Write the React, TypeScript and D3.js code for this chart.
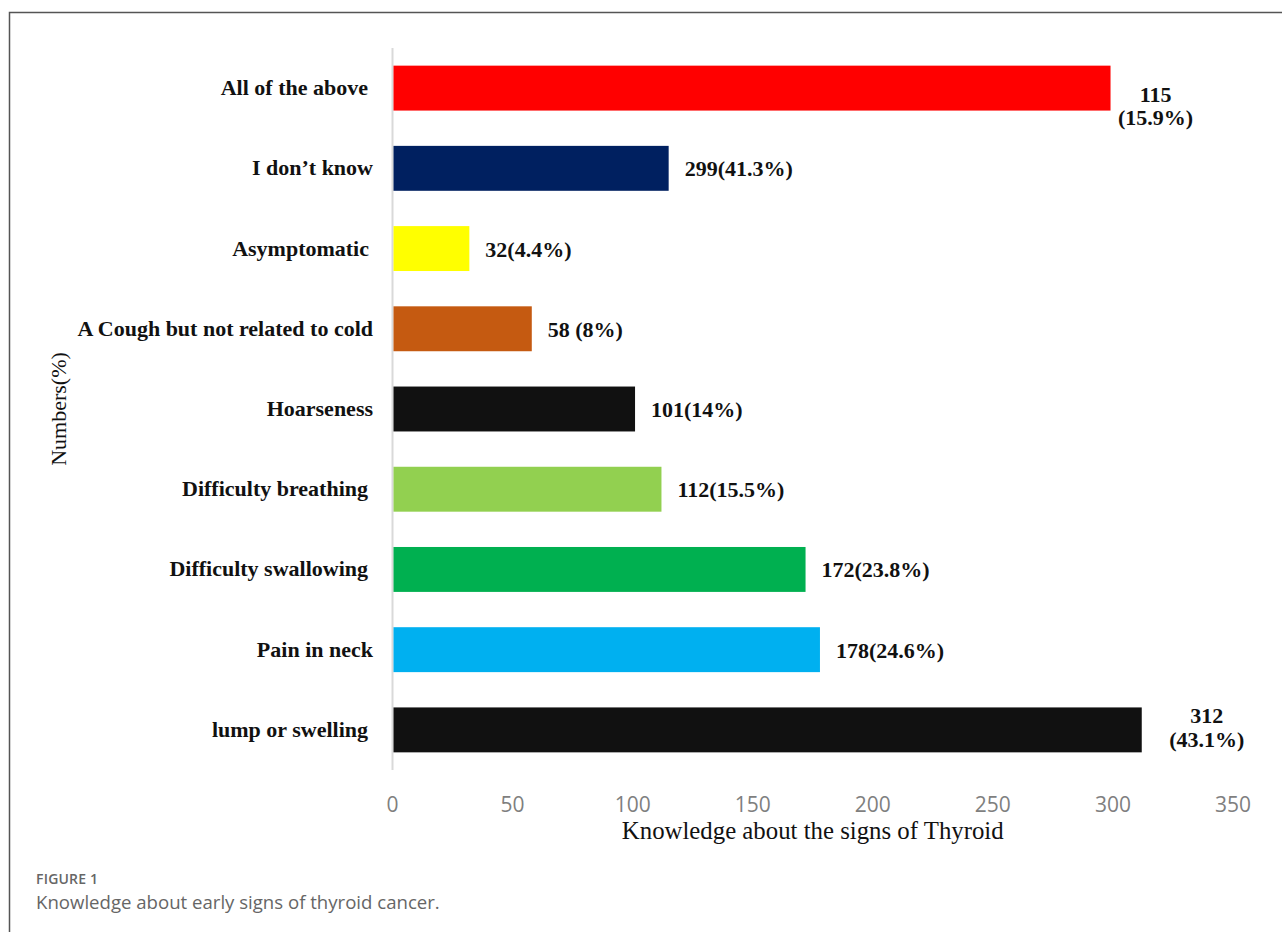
import React from "react";
import * as d3 from "d3";

const categories = [
  "All of the above",
  "I don\u2019t know",
  "Asymptomatic",
  "A Cough but not related to cold",
  "Hoarseness",
  "Difficulty breathing",
  "Difficulty swallowing",
  "Pain in neck",
  "lump or swelling",
];
const values = [299, 115, 32, 58, 101, 112, 172, 178, 312];
const valueLabels = [
  ["115", "(15.9%)"],
  ["299(41.3%)"],
  ["32(4.4%)"],
  ["58 (8%)"],
  ["101(14%)"],
  ["112(15.5%)"],
  ["172(23.8%)"],
  ["178(24.6%)"],
  ["312", "(43.1%)"],
];
const colors = [
  "#ff0000",
  "#002060",
  "#ffff00",
  "#c55a11",
  "#111111",
  "#92d050",
  "#00b050",
  "#00b0f0",
  "#111111",
];
const xTicks = [0, 50, 100, 150, 200, 250, 300, 350];
const xTitle = "Knowledge about the signs of Thyroid";
const yTitle = "Numbers(%)";
const figLabel = "FIGURE 1";
const caption = "Knowledge about early signs of thyroid cancer.";

// per-label trailing gap (style only)
const catLabelGap: Record<string, number> = {
  "All of the above": 5,
  "Asymptomatic": 4,
  "Difficulty breathing": 5,
  "Difficulty swallowing": 5,
  "lump or swelling": 5,
};
const multiLineLayout: Record<number, { dx: number; dy: number[] }> = {
  0: { dx: 45, dy: [14, 37] },
  8: { dx: 65, dy: [-7, 17] },
};

export default function App() {
  const W = 1282;
  const H = 932;
  const x = d3.scaleLinear().domain([0, 350]).range([392.5, 1233]);
  const y = d3
    .scaleBand<string>()
    .domain(categories)
    .range([48, 770])
    .paddingInner(0.44)
    .paddingOuter(0.22);
  const bw = y.bandwidth();
  const serif = "'Liberation Serif', 'Times New Roman', serif";
  const sans = "'Open Sans', 'Noto Sans', sans-serif";

  return (
    <svg
      width={W}
      height={H}
      style={{ position: "absolute", left: 0, top: 0, background: "#fff" }}
    >
      {/* frame */}
      <path d={`M9.5,${H} L9.5,12.5 L${W},12.5`} fill="none" stroke="#555" strokeWidth={1.5} />

      {/* axis line */}
      <line x1={x(0)} x2={x(0)} y1={48} y2={770} stroke="#d9d9d9" strokeWidth={2} />

      {/* bars */}
      {categories.map((c, i) => (
        <rect
          key={c}
          x={x(0) + 1}
          y={y(c)!}
          width={x(values[i]) - x(0) - 1}
          height={bw}
          fill={colors[i]}
        />
      ))}

      {/* category labels */}
      {categories.map((c) => (
        <text
          key={"l" + c}
          x={373 - (catLabelGap[c] || 0)}
          y={y(c)! + bw / 2 + 7}
          textAnchor="end"
          fontFamily={serif}
          fontWeight="bold"
          fontSize={22}
          fill="#111"
        >
          {c}
        </text>
      ))}

      {/* value labels */}
      {categories.map((c, i) => {
        const cy = y(c)! + bw / 2;
        const end = x(values[i]);
        const lines = valueLabels[i];
        if (lines.length === 1) {
          return (
            <text
              key={"v" + c}
              x={end + 16}
              y={cy + 8}
              fontFamily={serif}
              fontWeight="bold"
              fontSize={22}
              fill="#111"
            >
              {lines[0]}
            </text>
          );
        }
        const lay = multiLineLayout[i] || { dx: 50, dy: [0, 24] };
        return (
          <g key={"v" + c}>
            {lines.map((t, k) => (
              <text
                key={k}
                x={end + lay.dx}
                y={cy + lay.dy[k]}
                textAnchor="middle"
                fontFamily={serif}
                fontWeight="bold"
                fontSize={22}
                fill="#111"
              >
                {t}
              </text>
            ))}
          </g>
        );
      })}

      {/* x ticks */}
      {xTicks.map((t) => (
        <text
          key={"t" + t}
          x={x(t)}
          y={812}
          textAnchor="middle"
          fontFamily={sans}
          fontSize={21}
          fill="#7f7f7f"
        >
          {t}
        </text>
      ))}

      {/* x title */}
      <text
        x={(x(0) + x(350)) / 2}
        y={839}
        textAnchor="middle"
        fontFamily={serif}
        fontSize={24.8}
        fill="#111"
      >
        {xTitle}
      </text>

      {/* y title */}
      <text
        transform={`translate(66,${(48 + 770) / 2}) rotate(-90)`}
        textAnchor="middle"
        fontFamily={serif}
        fontSize={22}
        fill="#111"
      >
        {yTitle}
      </text>

      {/* caption */}
      <text x={36} y={884} fontFamily={sans} fontSize={14} fontWeight={600} fill="#666" letterSpacing={0.2}>
        {figLabel}
      </text>
      <text x={36} y={909} fontFamily={sans} fontSize={18.6} fill="#666">
        {caption}
      </text>
    </svg>
  );
}
